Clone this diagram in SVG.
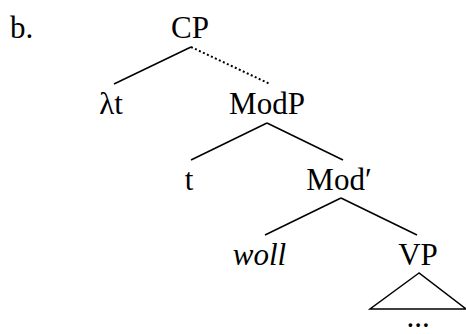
<svg xmlns="http://www.w3.org/2000/svg" width="466" height="334" viewBox="0 0 466 334">
<style>
text{font-family:"Liberation Serif","Times New Roman",serif;font-size:31px;fill:#000;text-anchor:middle}
.l{stroke:#000;stroke-width:1.5;fill:none}
.d{stroke:#000;stroke-width:2;fill:none;stroke-dasharray:2 2.4}
</style>
<rect width="466" height="334" fill="#fff"/>
<text x="10" y="38" style="text-anchor:start">b.</text>
<g id="connectors">
<line class="l" x1="191" y1="47" x2="114" y2="84"/>
<line class="d" x1="191" y1="47" x2="270" y2="84"/>
<line class="l" x1="267" y1="123" x2="191" y2="160"/>
<line class="l" x1="267" y1="123" x2="343" y2="160"/>
<line class="l" x1="341" y1="198" x2="265" y2="235"/>
<line class="l" x1="341" y1="198" x2="417" y2="235"/>
<polygon class="l" points="419,273 370,309 466,309"/>
</g>
<g id="CP"><text x="190" y="38">CP</text></g>
<g id="lt"><text x="111" y="114">λt</text></g>
<g id="ModP"><text x="267" y="114">ModP</text></g>
<g id="t"><text x="189" y="190">t</text></g>
<g id="Modbar"><text x="339" y="190">Mod′</text></g>
<g id="woll"><text x="259.5" y="265" font-style="italic">woll</text></g>
<g id="VP"><text x="418" y="265">VP</text></g>
<g id="dots"><text x="418" y="327">...</text></g>
</svg>
